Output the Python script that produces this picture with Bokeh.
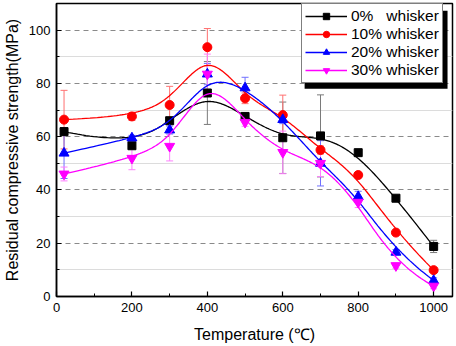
import numpy as np
from bokeh.plotting import figure
from bokeh.models import (ColumnDataSource, Whisker, Legend, LegendItem, BoxAnnotation,
                          FixedTicker, Range1d, TeeHead)
from bokeh.embed import file_html
from bokeh.resources import INLINE

# ---------------- data ----------------
temperature = [20, 200, 300, 400, 500, 600, 700, 800, 900, 1000]
labels = ["0%   whisker", "10% whisker", "20% whisker", "30% whisker"]

w0 = [61.9, 56.6, 66.0, 76.4, 67.6, 59.6, 60.3, 54.0, 36.9, 18.8]
w10 = [66.4, 67.6, 71.9, 93.6, 74.4, 68.1, 55.0, 45.6, 24.0, 9.9]
w20 = [53.8, 59.5, 62.5, 83.5, 78.3, 66.4, 50.0, 37.5, 16.6, 6.0]
w30 = [46.0, 51.9, 56.4, 83.5, 65.4, 54.1, 50.0, 35.4, 11.6, 3.9]

e0 = [1.5, 1.2, 1.0, 11.8, 1.0, 13.4, 15.4, 1.0, 1.0, 2.3]
e10 = [11.0, 1.5, 7.0, 7.0, 2.0, 7.5, 1.5, 1.0, 1.0, 1.0]
e20 = [9.5, 1.0, 1.5, 4.0, 4.0, 1.5, 8.5, 2.0, 1.0, 1.0]
e30 = [2.6, 4.3, 5.5, 7.5, 1.5, 8.0, 5.0, 2.0, 1.0, 1.0]

x_ticks = [0, 200, 400, 600, 800, 1000]
y_ticks = [0, 20, 40, 60, 80, 100]

series = [
    (w0, e0, "#000000", "#7a7a7a", "square", 8),
    (w10, e10, "#ff0000", "#ff7070", "circle", 9),
    (w20, e20, "#0000ff", "#7070ff", "triangle", 10),
    (w30, e30, "#ff00ff", "#ff80ff", "inverted_triangle", 10),
]


def bspline(xs, ys, n=300, k=3):
    """Clamped cubic B-spline using the data points as control points."""
    P = np.column_stack([xs, ys]).astype(float)
    m = len(P)
    knots = np.concatenate([np.zeros(k), np.arange(m - k + 1), np.full(k, m - k)]).astype(float)
    t = np.linspace(0, m - k, n)
    t[-1] -= 1e-9

    def N(i, p, tt):
        if p == 0:
            return ((knots[i] <= tt) & (tt < knots[i + 1])).astype(float)
        d1 = knots[i + p] - knots[i]
        d2 = knots[i + p + 1] - knots[i + 1]
        a = (tt - knots[i]) / d1 * N(i, p - 1, tt) if d1 > 0 else 0.0
        b = (knots[i + p + 1] - tt) / d2 * N(i + 1, p - 1, tt) if d2 > 0 else 0.0
        return a + b

    C = np.zeros((n, 2))
    for i in range(m):
        C += np.outer(N(i, k, t), P[i])
    return C[:, 0], C[:, 1]


FONT = "Liberation Sans"

p = figure(width=456, height=346, x_range=Range1d(0, 1050), y_range=Range1d(0, 110),
           output_backend="svg", toolbar_location=None,
           min_border_left=53, min_border_right=4, min_border_top=3, min_border_bottom=50)

p.background_fill_color = "white"
p.border_fill_color = "white"
p.outline_line_color = "black"
p.outline_line_width = 1.5

p.xaxis.ticker = FixedTicker(ticks=x_ticks, minor_ticks=[100, 300, 500, 700, 900])
p.yaxis.ticker = FixedTicker(ticks=y_ticks, minor_ticks=[10, 30, 50, 70, 90])
p.xgrid.visible = False
p.ygrid.grid_line_color = "#8a8a8a"
p.ygrid.grid_line_dash = "5 4"
p.ygrid.grid_line_width = 1
p.ygrid.minor_grid_line_color = "#dcdcdc"

for ax in (p.xaxis[0], p.yaxis[0]):
    ax.axis_line_width = 1.5
    ax.major_tick_in = 5
    ax.major_tick_out = 0
    ax.minor_tick_in = 3
    ax.minor_tick_out = 0
    ax.major_tick_line_width = 1.2
    ax.major_label_text_font = FONT
    ax.major_label_text_font_size = "13px"
    ax.major_label_text_color = "black"
    ax.axis_label_text_font = FONT
    ax.axis_label_text_font_size = "16px"
    ax.axis_label_text_font_style = "normal"
    ax.axis_label_text_color = "black"

p.xaxis.axis_label = "Temperature (℃)"
p.yaxis.axis_label = "Residual compressive strength(MPa)"
p.xaxis.major_label_standoff = 6
p.xaxis.axis_label_standoff = 11
p.yaxis.major_label_standoff = 6
p.yaxis.axis_label_standoff = 5

items = []
for (vals, errs, col, ecol, marker, size), lab in zip(series, labels):
    src = ColumnDataSource(dict(
        x=temperature, y=vals,
        upper=[v + e for v, e in zip(vals, errs)],
        lower=[v - e for v, e in zip(vals, errs)],
    ))
    wk = Whisker(source=src, base="x", upper="upper", lower="lower",
                 line_color=ecol, line_width=1,
                 upper_head=TeeHead(size=7, line_color=ecol, line_width=1),
                 lower_head=TeeHead(size=7, line_color=ecol, line_width=1))
    p.add_layout(wk)
    cx, cy = bspline(temperature, vals)
    ln = p.line(cx, cy, line_color=col, line_width=1.3)
    sc = p.scatter("x", "y", source=src, marker=marker, size=size,
                   fill_color=col, line_color=col)
    items.append(LegendItem(label=lab, renderers=[ln, sc]))

# legend shadow
shadow = BoxAnnotation(left=(303 - 53) / 0.38, right=(447 - 53) / 0.38,
                       top=(296 - 10) / (266.7 / 100), bottom=(296 - 88) / (266.7 / 100),
                       fill_color="black", fill_alpha=1.0, line_color=None)
p.add_layout(shadow)

legend = Legend(items=items, location=(245, 213))
legend.label_text_font = FONT
legend.label_text_font_size = "15.5px"
legend.label_text_color = "black"
legend.glyph_width = 42
legend.glyph_height = 16
legend.label_height = 16
legend.label_standoff = 4
legend.spacing = 0
legend.padding = 3
legend.margin = 0
legend.border_line_color = "black"
legend.border_line_width = 1
legend.background_fill_color = "white"
legend.background_fill_alpha = 1.0
p.add_layout(legend, "center")

open("out.html", "w").write(file_html(p, INLINE))
